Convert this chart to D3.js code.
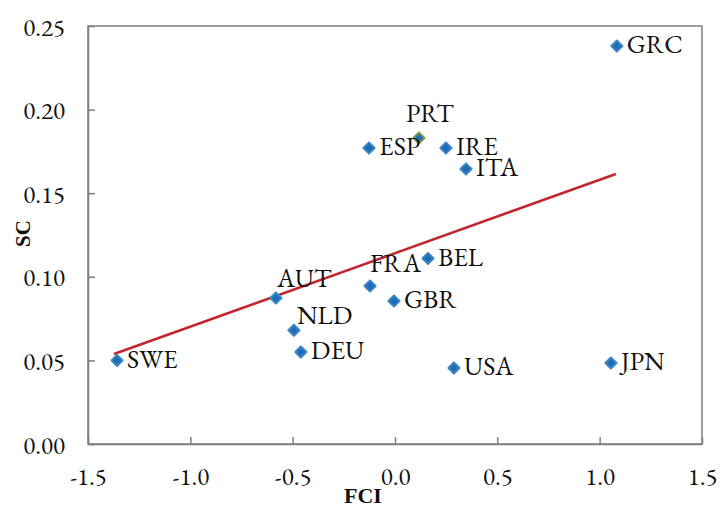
<!DOCTYPE html>
<html lang="en">
<head>
  <meta charset="UTF-8" />
  <title>SC vs FCI</title>
  <script src="https://d3js.org/d3.v7.min.js"></script>
  <style>
    body { margin: 0; background: #fff; }
  </style>
</head>
<body>
  <div id="chart"></div>
  <script>
    // country codes and their coordinates
    const countries = ["GRC", "PRT", "ESP", "IRE", "ITA", "BEL", "FRA", "GBR", "AUT", "NLD", "DEU", "SWE", "USA", "JPN"];
    const fci = [1.084, 0.117, -0.127, 0.249, 0.347, 0.161, -0.122, -0.005, -0.582, -0.494, -0.46, -1.358, 0.288, 1.055];
    const sc  = [0.238, 0.183, 0.177, 0.177, 0.1645, 0.111, 0.0945, 0.0855, 0.0873, 0.068, 0.055, 0.050, 0.0455, 0.0484];

    // linear trend line end points
    const trendX = [-1.373, 1.079];
    const trendY = [0.0538, 0.1615];

    const xTicks = [-1.5, -1.0, -0.5, 0.0, 0.5, 1.0, 1.5];
    const yTicks = [0.00, 0.05, 0.10, 0.15, 0.20, 0.25];

    // where the label sits relative to its marker
    const labelOffset = {
      PRT: [-13, -23], FRA: [0, -21], AUT: [1, -18], NLD: [3, -14]
    };

    const garamond = '"EB Garamond", "Liberation Serif", serif';
    const times = '"Liberation Serif", "Times New Roman", serif';

    const width = 720, height = 506;
    const margin = { top: 26, right: 18, bottom: 62, left: 88 };
    const innerWidth = width - margin.left - margin.right;
    const innerHeight = height - margin.top - margin.bottom;

    const svg = d3.select("#chart").append("svg")
      .attr("width", width)
      .attr("height", height)
      .append("g")
      .attr("transform", `translate(${margin.left},${margin.top})`);

    const x = d3.scaleLinear().domain([-1.5, 1.5]).range([0, innerWidth]);
    const y = d3.scaleLinear().domain([0, 0.25]).range([innerHeight, 0]);

    // plot frame
    svg.append("rect")
      .attr("width", innerWidth)
      .attr("height", innerHeight)
      .attr("fill", "none")
      .attr("stroke", "#7f7f7f")
      .attr("stroke-width", 1.5);

    // axes, ticks pointing inward; plain hyphen for negatives
    const fmtX = d => d3.format(".1f")(d).replace("−", "-");
    const xAxis = svg.append("g")
      .attr("transform", `translate(0,${innerHeight})`)
      .call(d3.axisBottom(x).tickValues(xTicks).tickFormat(fmtX).tickSizeInner(-7).tickSizeOuter(0));
    const yAxis = svg.append("g")
      .call(d3.axisLeft(y).tickValues(yTicks).tickFormat(d3.format(".2f")).tickSizeInner(-7).tickSizeOuter(0));
    [xAxis, yAxis].forEach(g => {
      g.attr("font-size", null).attr("font-family", null);
      g.select(".domain").attr("stroke", "#7f7f7f").attr("stroke-width", 1.5);
      g.selectAll(".tick line").attr("stroke", "#7f7f7f").attr("stroke-width", 1.5);
      g.selectAll(".tick text")
        .style("font-family", garamond)
        .style("font-size", "25px")
        .attr("fill", "#111");
    });
    xAxis.selectAll(".tick text").attr("y", 41).attr("dy", null);
    yAxis.selectAll(".tick text").attr("x", -23).attr("dy", "0.36em");

    // trend line
    svg.append("line")
      .attr("x1", x(trendX[0])).attr("y1", y(trendY[0]))
      .attr("x2", x(trendX[1])).attr("y2", y(trendY[1]))
      .attr("stroke", "#c0262b")
      .attr("stroke-width", 2.5);

    const data = countries.map((c, i) => ({ name: c, fci: fci[i], sc: sc[i] }));

    // markers: square turned 45 degrees
    svg.selectAll(".pt")
      .data(data)
      .enter()
      .append("path")
      .attr("class", "pt")
      .attr("d", d3.symbol().type(d3.symbolSquare).size(62))
      .attr("transform", d => `translate(${x(d.fci)},${y(d.sc)}) rotate(45)`)
      .attr("fill", "#1f6cb4")
      .attr("stroke", d => d.name === "PRT" ? "#7f9a4a" : "#3a85c6")
      .attr("stroke-width", 2)
      .attr("stroke-linejoin", "round");

    // labels
    svg.selectAll(".pt-label")
      .data(data)
      .enter()
      .append("text")
      .attr("class", "pt-label")
      .attr("x", d => x(d.fci) + (labelOffset[d.name] ? labelOffset[d.name][0] : 10))
      .attr("y", d => y(d.sc) + (labelOffset[d.name] ? labelOffset[d.name][1] : 0))
      .attr("dy", "0.28em")
      .style("font-family", garamond)
      .style("font-size", "26px")
      .attr("fill", "#111")
      .text(d => d.name);

    // axis titles
    svg.append("text")
      .attr("x", innerWidth / 2 - 32)
      .attr("y", innerHeight + 59)
      .attr("text-anchor", "middle")
      .style("font-family", times)
      .style("font-size", "22px")
      .style("font-weight", "bold")
      .attr("fill", "#111")
      .text("FCI");

    svg.append("text")
      .attr("transform", `translate(${-58},${innerHeight / 2 - 1.5}) rotate(-90)`)
      .attr("text-anchor", "middle")
      .style("font-family", times)
      .style("font-size", "21px")
      .style("font-weight", "bold")
      .attr("fill", "#111")
      .text("SC");
  </script>
</body>
</html>
